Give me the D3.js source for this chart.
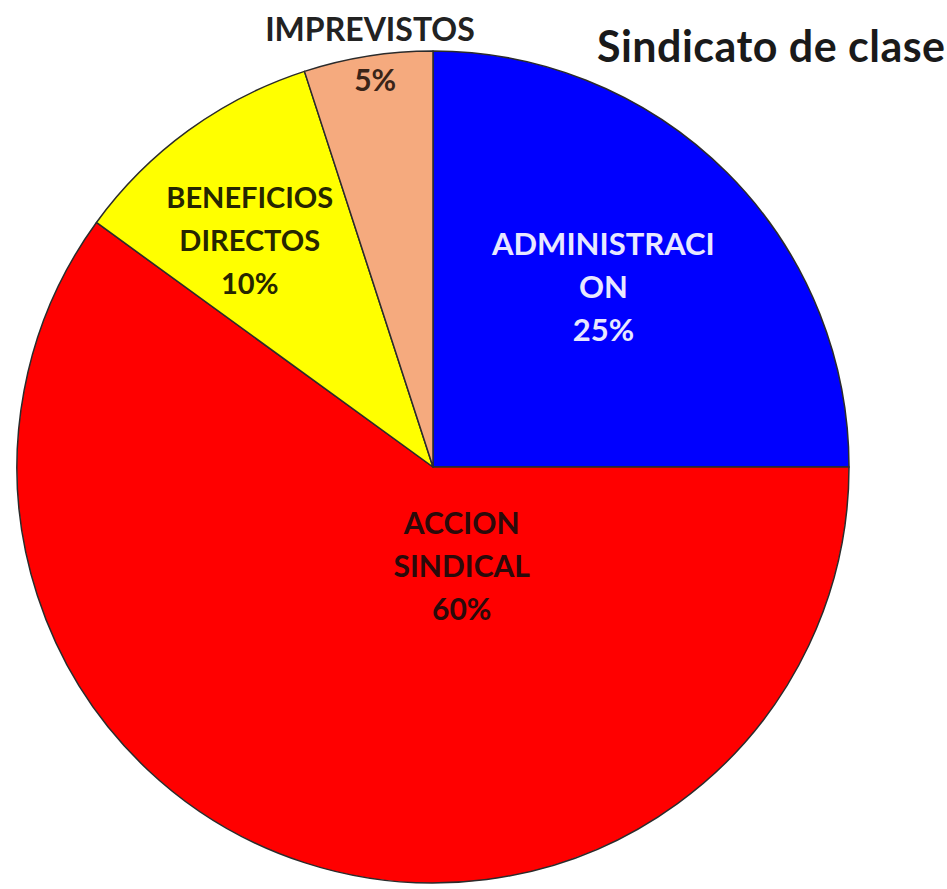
<!DOCTYPE html>
<html>
<head>
<meta charset="utf-8">
<script src="https://cdn.jsdelivr.net/npm/d3@7"></script>
<style>
  body { margin: 0; background: #fff; }
  svg text { font-family: Lato, "Open Sans", sans-serif; font-weight: bold; }
</style>
</head>
<body>
<svg id="chart" width="947" height="889"></svg>
<script>
// slices, clockwise from 12 o'clock
var categories = ["ADMINISTRACI ON", "ACCION SINDICAL", "BENEFICIOS DIRECTOS", "IMPREVISTOS"];
var values = [25, 60, 10, 5];
var labelLines = [["ADMINISTRACI", "ON", "25%"], ["ACCION", "SINDICAL", "60%"], ["BENEFICIOS", "DIRECTOS", "10%"], ["5%"]];
var colors = ["#0000ff", "#ff0000", "#ffff00", "#f5aa7e"];
var textColors = ["#e8e8ff", "#2a0a0a", "#262600", "#3a2418"];
var title = "Sindicato de clase";

var width = 947, height = 889;
var cx = 433, cy = 467, radius = 416;

var svg = d3.select("#chart");

var pie = d3.pie().sort(null).value(function(d) { return d; });
var arc = d3.arc().innerRadius(0).outerRadius(radius);
var arcs = pie(values);

var g = svg.append("g").attr("transform", "translate(" + cx + "," + cy + ")");

g.selectAll("path")
  .data(arcs)
  .enter().append("path")
    .attr("d", arc)
    .attr("fill", function(d, i) { return colors[i]; })
    .attr("stroke", "#2b2b2b")
    .attr("stroke-width", 1.5)
    .attr("stroke-linejoin", "round");

// label placement: fraction of radius, angle shift (deg) from the slice middle
var labelRadius = [0.595, 0.25, 0.70, 0.94];
var labelShift = [-1.5, -34, -3, 0.5];
var labelSize = [31, 30, 29, 30];
var lineGap = 43;

arcs.forEach(function(d, i) {
  var a = (d.startAngle + d.endAngle) / 2 + labelShift[i] * Math.PI / 180;
  var r = radius * labelRadius[i];
  var x = Math.sin(a) * r, y = -Math.cos(a) * r;
  var lines = labelLines[i];
  var t = g.append("text")
    .attr("text-anchor", "middle")
    .attr("fill", textColors[i])
    .attr("font-size", labelSize[i]);
  lines.forEach(function(line, j) {
    t.append("tspan")
      .attr("x", x)
      .attr("y", y + (j - (lines.length - 1) / 2) * lineGap)
      .attr("dy", "0.35em")
      .text(line);
  });
});

// outside label for the small slice
var imp = arcs[3];
var impA = (imp.startAngle + imp.endAngle) / 2;
g.append("text")
  .attr("x", Math.sin(impA) * radius + 2)
  .attr("y", -radius - 10)
  .attr("text-anchor", "middle")
  .attr("fill", "#222")
  .attr("font-size", 32)
  .text(categories[3]);

svg.append("text")
  .attr("x", 597)
  .attr("y", 62)
  .attr("fill", "#1a1a1a")
  .attr("font-size", 43)
  .attr("textLength", 348)
  .attr("lengthAdjust", "spacing")
  .text(title);
</script>
</body>
</html>
